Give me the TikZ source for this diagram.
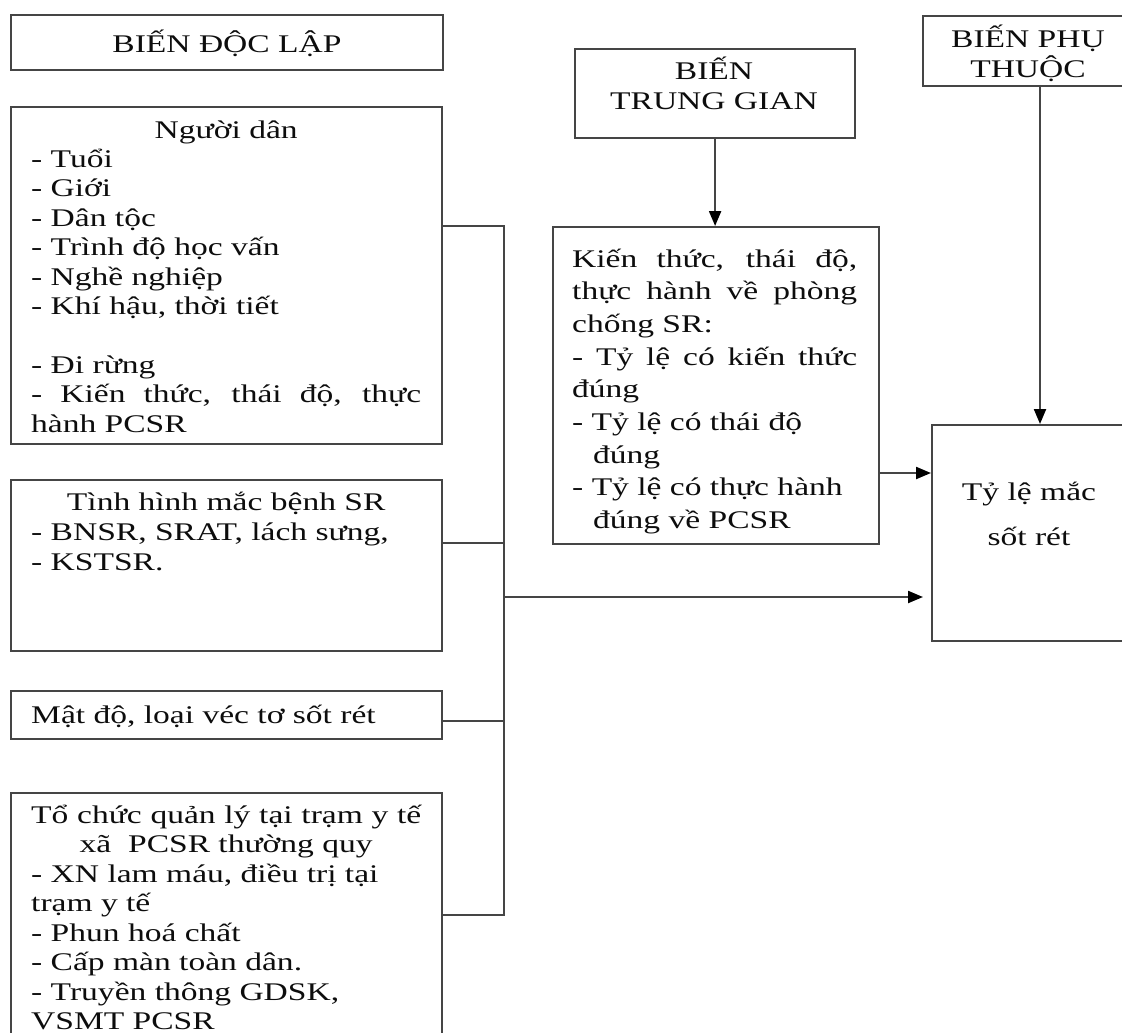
\documentclass[tikz,border=0pt]{standalone}
\usepackage{fontspec}
\setmainfont{Liberation Serif}[FakeStretch=1.32]
\usetikzlibrary{arrows.meta}

% one printed line: left, centred or stretched to the full width
\newcommand\lnL[1]{\makebox[\linewidth][l]{#1}\par}
\newcommand\lnC[1]{\makebox[\linewidth][c]{#1}\par}
\newcommand\lnJ[1]{\makebox[\linewidth][s]{#1}\par}
% a block of lines: width, line distance, lines
\newcommand\txtblock[3]{\parbox[t]{#1}{\fontsize{25.4}{#2}\selectfont\parindent=0pt\parskip=0pt #3}}

\definecolor{linec}{gray}{0.27}
\definecolor{inkc}{gray}{0.05}

\begin{document}
\begin{tikzpicture}[x=1pt,y=-1pt,
  box/.style={draw=linec, line width=2.2pt, rectangle, inner sep=0pt, anchor=north west},
  txt/.style={inner sep=0pt, text=inkc},
  wire/.style={draw=linec, line width=2.2pt},
  arrow/.style={wire, -{Triangle[length=15pt,width=12pt,color=black,fill=black]}}]

\useasboundingbox (0,0) rectangle (1122,1033);
\fill[white] (0,0) rectangle (1122,1033);
\clip (0,0) rectangle (1122,1033);

% boxes
\node[box, minimum width=432pt, minimum height=55pt]  (bdl) at (10,14)  {};
\node[box, minimum width=431pt, minimum height=337pt] (nd)  at (10,106) {};
\node[box, minimum width=431pt, minimum height=171pt] (th)  at (10,479) {};
\node[box, minimum width=431pt, minimum height=48pt]  (md)  at (10,690) {};
\node[box, minimum width=431pt, minimum height=260pt] (tc)  at (10,792) {};
\node[box, minimum width=280pt, minimum height=89pt]  (btg) at (574,48) {};
\node[box, minimum width=215pt, minimum height=70pt]  (bpt) at (922,15) {};
\node[box, minimum width=326pt, minimum height=317pt] (kt)  at (552,226) {};
\node[box, minimum width=210pt, minimum height=216pt] (tl)  at (931,424) {};

% texts
\node[txt, anchor=base] (bdlt) at (227,53) {\txtblock{420pt}{30pt}{\lnC{BIẾN ĐỘC LẬP}}};

\node[txt, anchor=base west] (ndt) at (31,138) {\txtblock{390pt}{29.4pt}{%
  \lnC{Người dân}
  \lnL{- Tuổi}
  \lnL{- Giới}
  \lnL{- Dân tộc}
  \lnL{- Trình độ học vấn}
  \lnL{- Nghề nghiệp}
  \lnL{- Khí hậu, thời tiết}
  \lnL{}
  \lnL{- Đi rừng}
  \lnJ{- Kiến thức, thái độ, thực}
  \lnL{hành PCSR}}};

\node[txt, anchor=base west] (tht) at (31,510) {\txtblock{390pt}{30pt}{%
  \lnC{Tình hình mắc bệnh SR}
  \lnL{- BNSR, SRAT, lách sưng,}
  \lnL{- KSTSR.}}};

\node[txt, anchor=base west] (mdt) at (31,723) {\txtblock{390pt}{30pt}{%
  \lnL{Mật độ, loại véc tơ sốt rét}}};

\node[txt, anchor=base west] (tct) at (31,823) {\txtblock{390pt}{29.5pt}{%
  \lnJ{Tổ chức quản lý tại trạm y tế}
  \lnC{xã\ \ PCSR thường quy}
  \lnL{- XN lam máu, điều trị tại}
  \lnL{trạm y tế}
  \lnL{- Phun hoá chất}
  \lnL{- Cấp màn toàn dân.}
  \lnL{- Truyền thông GDSK,}
  \lnL{VSMT PCSR}}};

\node[txt, anchor=base] (btgt) at (714,80) {\txtblock{260pt}{30pt}{%
  \lnC{BIẾN}
  \lnC{TRUNG GIAN}}};

\node[txt, anchor=base] (bptt) at (1028,48) {\txtblock{200pt}{30pt}{%
  \lnC{BIẾN PHỤ}
  \lnC{THUỘC}}};

\node[txt, anchor=base west] (ktt) at (572,267) {\txtblock{285pt}{32.7pt}{%
  \lnJ{Kiến thức, thái độ,}
  \lnJ{thực hành về phòng}
  \lnL{chống SR:}
  \lnJ{- Tỷ lệ có kiến thức}
  \lnL{đúng}
  \lnL{- Tỷ lệ có thái độ}
  \lnL{\hspace*{21pt}đúng}
  \lnL{- Tỷ lệ có thực hành}
  \lnL{\hspace*{21pt}đúng về PCSR}}};

\node[txt, anchor=base] (tlt) at (1029,500) {\txtblock{200pt}{45pt}{%
  \lnC{Tỷ lệ mắc}
  \lnC{sốt rét}}};

% junction points on the collecting line
\coordinate (b1) at (504,226);
\coordinate (b2) at (504,543);
\coordinate (b3) at (504,721);
\coordinate (b4) at (504,915);
\coordinate (ba) at (504,597);
\coordinate (ka) at (878,473);
\coordinate (pa) at (1040,85);

% connectors
\draw[wire] (nd.east |- b1) -- (b1) -- (b4) -- (tc.east |- b4);
\draw[wire] (th.east |- b2) -- (b2);
\draw[wire] (md.east |- b3) -- (b3);
\draw[arrow, shorten >=8pt] (ba) -- (tl.west |- ba);
\draw[arrow] (kt.east |- ka) -- (tl.west |- ka);
\draw[arrow] (btg.south) -- (btg.south |- kt.north);
\draw[arrow] (pa) -- (pa |- tl.north);
\end{tikzpicture}
\end{document}
